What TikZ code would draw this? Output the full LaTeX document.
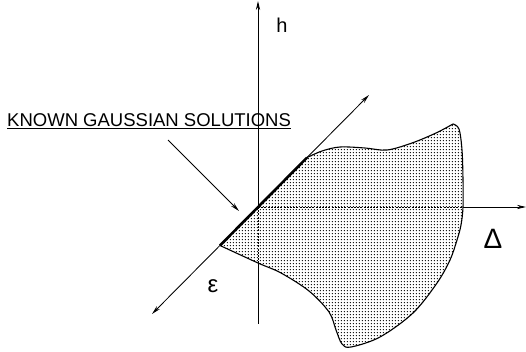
\documentclass[tikz,border=0pt]{standalone}
\usepackage{fontspec}
\setmainfont{Liberation Sans}
\usetikzlibrary{arrows.meta,patterns.meta}
\tikzdeclarepattern{
  name=stipple,
  type=uncolored,
  bounding box={(0pt,0pt) and (3.3pt,3.3pt)},
  tile size={(3.3pt,3.3pt)},
  code={\fill (1.65pt,1.65pt) circle (0.8pt);}
}
\tikzset{
  axis/.style={line width=0.85pt},
  tip/.style={-{Stealth[length=9pt,width=4.2pt]}},
  inner/.style={line width=0.85pt, dash pattern=on 2pt off 1.2pt},
  region/.style={pattern={stipple}, pattern color=black},
  border/.style={line width=1.1pt, line join=round},
  known/.style={line width=2.6pt},
  lbl/.style={inner sep=0pt}
}
\begin{document}
\begin{tikzpicture}[x=1pt,y=-1pt]
\useasboundingbox (0,0) rectangle (526,352);
% key points
\coordinate (O) at (258,207);
\coordinate (Htop) at (258,1);
\coordinate (Hbot) at (258,324);
\coordinate (Hreg) at (258,263);
\coordinate (Dend) at (526,207);
\coordinate (Dreg) at (463,207);
\coordinate (Elow) at (152,314);
\coordinate (Ehigh) at (369,95);
\coordinate (A) at (220,245.5);
\coordinate (B) at (307,157.6);
\coordinate (C) at (453,124);
% region
\path[region] plot[smooth, tension=0.55] coordinates {
 (307,157.6) (322,151) (340,147) (365,148) (387,150) (412,143) (436,133) (453,124)}
 -- plot[smooth, tension=0.55] coordinates {(453,124)
 (459,129) (462,150) (463,180) (463,207) (461,225) (457,240) (450,260) (437,283)
 (413,313) (380,337) (351,347) (342,344) (336,330) (329,312) (309,291) (281,273) (258,263) (220,245.5)} -- cycle;
\draw[border] plot[smooth, tension=0.55] coordinates {
 (307,157.6) (322,151) (340,147) (365,148) (387,150) (412,143) (436,133) (453,124)}
 -- plot[smooth, tension=0.55] coordinates {(453,124)
 (459,129) (462,150) (463,180) (463,207) (461,225) (457,240) (450,260) (437,283)
 (413,313) (380,337) (351,347) (342,344) (336,330) (329,312) (309,291) (281,273) (258,263) (220,245.5)};
% axes
\draw[axis,tip] (O) -- (Htop);
\draw[inner] (O) -- (Hreg);
\draw[axis] (Hreg) -- (Hbot);
\draw[inner] (O) -- (Dreg);
\draw[axis,tip] (Dreg) -- (Dend);
\draw[axis,{Stealth[length=9pt,width=4.2pt]}-{Stealth[length=9pt,width=4.2pt]}] (Elow) -- (Ehigh);
\draw[known] (A) -- (B);
% labels
\node[lbl, font=\fontsize{20}{24}\selectfont] (h) at (282,25) {h};
\node[lbl, font=\fontsize{28}{32}\selectfont] (delta) at (493,239) {Δ};
\node[lbl, font=\fontsize{24}{28}\selectfont] (eps) at (213,286) {ε};
\node[lbl, font=\fontsize{18.5}{22}\selectfont, anchor=base west] (known) at (7,126.5) {\underline{KNOWN GAUSSIAN SOLUTIONS}};
\coordinate (ptr) at (168,140);
\coordinate (ptrtip) at (239,211);
\draw[axis,tip] (ptr) -- (ptrtip);
\end{tikzpicture}
\end{document}
